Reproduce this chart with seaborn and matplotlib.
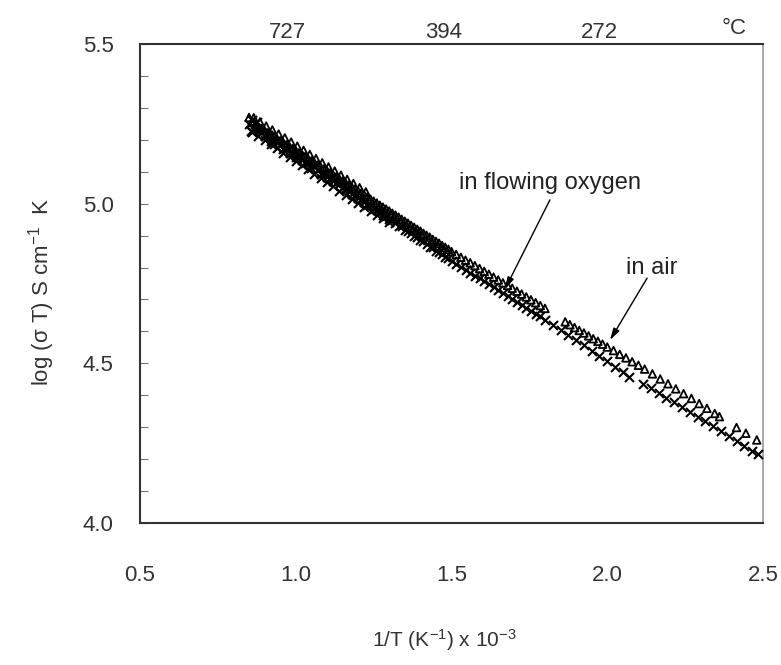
import matplotlib
matplotlib.use("Agg")
import matplotlib.pyplot as plt
import seaborn as sns
import pandas as pd
from matplotlib.ticker import MultipleLocator, FixedLocator
from matplotlib.transforms import ScaledTranslation

# ---------------- data ----------------
x_oxygen = [0.85, 0.855, 0.86, 0.865, 0.87, 0.875, 0.88, 0.89, 0.90, 0.91, 0.92, 0.93, 0.94, 0.95,
            0.96, 0.97, 0.98, 0.99, 1.00, 1.01, 1.02, 1.03, 1.04, 1.05, 1.06, 1.07, 1.08,
            1.09, 1.10, 1.11, 1.12, 1.13, 1.14, 1.15, 1.16, 1.17, 1.18, 1.19, 1.20, 1.21,
            1.22, 1.23, 1.24, 1.25, 1.26, 1.27, 1.28, 1.29, 1.30, 1.31, 1.32, 1.33, 1.34,
            1.35, 1.36, 1.37, 1.38, 1.39, 1.40, 1.41, 1.42, 1.43, 1.44, 1.45, 1.46, 1.47,
            1.48, 1.49, 1.50, 1.515, 1.53, 1.545, 1.56, 1.575, 1.59, 1.605, 1.62, 1.635,
            1.65, 1.665, 1.68, 1.695, 1.71, 1.725, 1.74, 1.755, 1.77, 1.785, 1.80, 1.825,
            1.85, 1.875, 1.90, 1.925, 1.95, 1.975, 2.00, 2.025, 2.05, 2.07, 2.115, 2.14,
            2.165, 2.19, 2.215, 2.24, 2.265, 2.29, 2.315, 2.34, 2.365, 2.39, 2.415, 2.44,
            2.465, 2.485,
            0.86, 0.88, 0.90, 0.92, 0.94, 0.96, 0.98, 1.00, 1.02, 1.04, 1.06, 1.08, 1.10,
            1.12, 1.14, 1.16, 1.18, 1.20, 1.22, 1.24, 1.26, 1.28, 1.30]
y_oxygen = [5.250, 5.228, 5.262, 5.235, 5.237, 5.255, 5.230, 5.224, 5.212, 5.214, 5.197, 5.188,
            5.196, 5.184, 5.172, 5.175, 5.160, 5.158, 5.145, 5.150, 5.138, 5.128, 5.129,
            5.112, 5.118, 5.105, 5.092, 5.097, 5.083, 5.081, 5.070, 5.065, 5.061, 5.050,
            5.047, 5.039, 5.030, 5.028, 5.017, 5.014, 5.006, 4.997, 4.995, 4.984, 4.981,
            4.973, 4.964, 4.962, 4.951, 4.948, 4.940, 4.931, 4.929, 4.918, 4.915, 4.907,
            4.898, 4.896, 4.885, 4.882, 4.874, 4.865, 4.863, 4.852, 4.849, 4.841, 4.832,
            4.830, 4.819, 4.812, 4.803, 4.793, 4.784, 4.775, 4.766, 4.757, 4.748, 4.738,
            4.729, 4.720, 4.711, 4.702, 4.692, 4.683, 4.674, 4.665, 4.656, 4.647, 4.637,
            4.620, 4.604, 4.588, 4.572, 4.556, 4.540, 4.524, 4.507, 4.490, 4.474, 4.458,
            4.436, 4.423, 4.408, 4.393, 4.378, 4.363, 4.348, 4.333, 4.318, 4.303, 4.288,
            4.273, 4.257, 4.242, 4.227, 4.215,
            5.225, 5.212, 5.199, 5.186, 5.173, 5.159, 5.146, 5.133, 5.120, 5.107, 5.093,
            5.080, 5.067, 5.054, 5.041, 5.027, 5.014, 5.001, 4.990, 4.978, 4.966, 4.954,
            4.942]

x_air = [0.85, 0.86, 0.87, 0.88, 0.89, 0.90, 0.91, 0.92, 0.93, 0.94, 0.95, 0.96, 0.97, 0.98,
         0.99, 1.00, 1.01, 1.02, 1.03, 1.04, 1.05, 1.06, 1.07, 1.08, 1.09, 1.10, 1.11, 1.12,
         1.13, 1.14, 1.15, 1.16, 1.17, 1.18, 1.19, 1.20, 1.21, 1.22, 1.23, 1.24, 1.25, 1.26,
         1.27, 1.28, 1.29, 1.30, 1.31, 1.32, 1.33, 1.34, 1.35, 1.36, 1.37, 1.38, 1.39, 1.40,
         1.41, 1.42, 1.43, 1.44, 1.45, 1.46, 1.47, 1.48, 1.49, 1.50, 1.515, 1.53, 1.545,
         1.56, 1.575, 1.59, 1.605, 1.62, 1.635, 1.65, 1.665, 1.68, 1.695, 1.71, 1.725, 1.74,
         1.755, 1.77, 1.785, 1.80, 1.865, 1.88, 1.895, 1.91, 1.925, 1.94, 1.955, 1.97,
         1.985, 2.00, 2.02, 2.04, 2.06, 2.08, 2.10, 2.12, 2.145, 2.17, 2.195, 2.22, 2.245,
         2.27, 2.295, 2.32, 2.345, 2.36, 2.415, 2.445, 2.48,
         0.865, 0.885, 0.905, 0.925, 0.945, 0.965, 0.985, 1.005, 1.025, 1.045, 1.065,
         1.085, 1.105, 1.125, 1.145, 1.165, 1.185, 1.205, 1.225]
y_air = [5.270, 5.254, 5.247, 5.241, 5.235, 5.229, 5.222, 5.216, 5.210, 5.203, 5.197, 5.191,
         5.184, 5.178, 5.172, 5.166, 5.159, 5.153, 5.147, 5.140, 5.134, 5.128, 5.121, 5.115,
         5.109, 5.103, 5.096, 5.090, 5.084, 5.077, 5.071, 5.065, 5.058, 5.052, 5.046, 5.040,
         5.033, 5.027, 5.021, 5.014, 5.008, 5.002, 4.995, 4.989, 4.983, 4.977, 4.970, 4.964,
         4.958, 4.951, 4.945, 4.939, 4.932, 4.926, 4.920, 4.914, 4.907, 4.901, 4.895, 4.888,
         4.882, 4.876, 4.869, 4.863, 4.857, 4.850, 4.841, 4.832, 4.823, 4.815, 4.806, 4.797,
         4.788, 4.779, 4.770, 4.761, 4.752, 4.744, 4.735, 4.726, 4.717, 4.708, 4.699, 4.690,
         4.681, 4.672, 4.630, 4.621, 4.612, 4.603, 4.595, 4.586, 4.577, 4.569, 4.560, 4.551,
         4.540, 4.528, 4.517, 4.505, 4.494, 4.482, 4.467, 4.451, 4.436, 4.420, 4.405, 4.390,
         4.374, 4.359, 4.343, 4.333, 4.299, 4.281, 4.260,
         5.269, 5.256, 5.243, 5.231, 5.218, 5.206, 5.193, 5.180, 5.167, 5.154, 5.141,
         5.128, 5.115, 5.102, 5.089, 5.076, 5.063, 5.050, 5.037]

x_ticks = [0.5, 1.0, 1.5, 2.0, 2.5]
x_tick_labels = ["0.5", "1.0", "1.5", "2.0", "2.5"]
y_ticks = [4.0, 4.5, 5.0, 5.5]
y_tick_labels = ["4.0", "4.5", "5.0", "5.5"]
top_ticks = [1.0, 1.5, 2.0]
top_tick_labels = ["727", "394", "272"]

# ---------------- style ----------------
sns.set_style("white")
plt.rcParams["font.family"] = ["Liberation Sans", "DejaVu Sans"]
plt.rcParams["mathtext.fontset"] = "custom"
plt.rcParams["mathtext.rm"] = "Liberation Sans"
plt.rcParams["mathtext.it"] = "Liberation Sans:italic"

fig = plt.figure(figsize=(7.81, 6.65), dpi=100)
ax = fig.add_axes([140 / 781, 1 - 523 / 665, 623 / 781, 479 / 665])

df_o = pd.DataFrame({"x": x_oxygen, "y": y_oxygen})
df_a = pd.DataFrame({"x": x_air, "y": y_air})

sns.scatterplot(data=df_o, x="x", y="y", marker="x", color="black", s=42,
                linewidth=1.5, ax=ax, zorder=3)
sns.scatterplot(data=df_a, x="x", y="y", marker="^", facecolor="none",
                edgecolor="black", s=30, linewidth=1.3, ax=ax, zorder=3)

ax.set_xlim(0.5, 2.5)
ax.set_ylim(4.0, 5.5)
ax.set_xlabel("")
ax.set_ylabel("")

ax.xaxis.set_major_locator(FixedLocator(x_ticks))
ax.set_xticklabels(x_tick_labels)
ax.yaxis.set_major_locator(FixedLocator(y_ticks))
ax.set_yticklabels(y_tick_labels)
ax.yaxis.set_minor_locator(MultipleLocator(0.1))

ax.tick_params(axis="x", which="both", bottom=False, length=0, pad=30,
               labelsize=16, colors="#333333")
ax.tick_params(axis="y", which="both", left=True, direction="in", length=6,
               width=0.8, color="#777777", pad=19, labelsize=16, labelcolor="#333333")

for side, sp in ax.spines.items():
    sp.set_visible(True)
    sp.set_color("#333333")
    sp.set_linewidth(1.5)
ax.spines["right"].set_color("#999999")
ax.spines["right"].set_linewidth(1.2)

# top temperature axis
sec = ax.secondary_xaxis("top")
sec.xaxis.set_major_locator(FixedLocator(top_ticks))
sec.set_xticklabels(top_tick_labels)
sec.tick_params(axis="x", length=0, pad=1, labelsize=16, colors="#333333")
sec.spines["top"].set_visible(False)
offset = ScaledTranslation(-8 / 100, 0, fig.dpi_scale_trans)
for lab in sec.get_xticklabels():
    lab.set_transform(lab.get_transform() + offset)
ax.text((734 - 140) / 623, (523 - 28) / 479, "°C", transform=ax.transAxes,
        ha="center", va="center", fontsize=16, color="#333333")

# annotations
ax.annotate("", xy=(1.672, 4.733), xytext=(1.816, 5.012),
            arrowprops=dict(arrowstyle="-|>,head_width=0.2,head_length=0.7",
                            color="black", lw=1.0, shrinkA=0, shrinkB=0))
ax.text(1.816, 5.065, "in flowing oxygen", ha="center", va="center",
        fontsize=17, color="#222222")
ax.annotate("", xy=(2.009, 4.573), xytext=(2.128, 4.767),
            arrowprops=dict(arrowstyle="-|>,head_width=0.2,head_length=0.7",
                            color="black", lw=1.0, shrinkA=0, shrinkB=0))
ax.text(2.144, 4.800, "in air", ha="center", va="center",
        fontsize=17, color="#222222")

# axis labels
fig.text(42 / 781, 1 - 292 / 665, "log (σ T) S cm$^{-1}$  K", rotation=90,
         ha="center", va="center", fontsize=16, color="#333333")
fig.text(444 / 781, 1 - 640 / 665, "1/T (K$^{-1}$) x 10$^{-3}$",
         ha="center", va="center", fontsize=15, color="#333333")

fig.savefig("out.png", dpi=100)
